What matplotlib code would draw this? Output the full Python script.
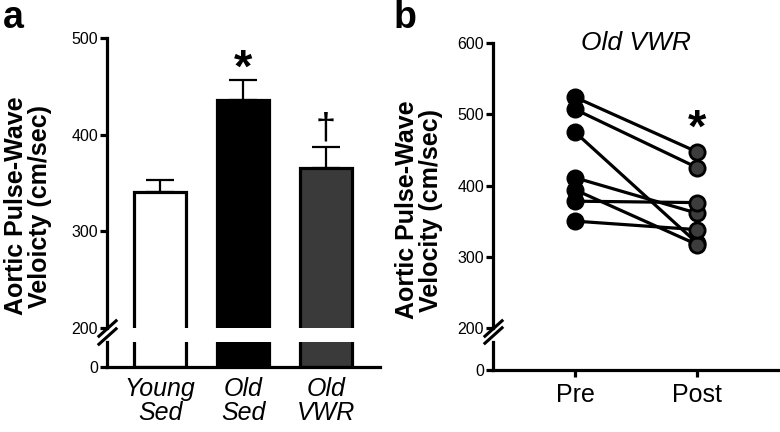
import matplotlib
matplotlib.use("Agg")
import matplotlib.pyplot as plt

plt.rcParams["font.family"] = ["Liberation Sans", "DejaVu Sans"]

# Panel a: group means and SEM
groups = ["Young\nSed", "Old\nSed", "Old\nVWR"]
pwv_mean = [341, 436, 366]
pwv_sem = [12, 21, 21]
bar_colors = ["white", "black", "#3a3a3a"]
marks = ["", "*", "\u2020"]

# Panel b: individual Old VWR mice, pre vs post
phases = ["Pre", "Post"]
pre = [524, 507, 475, 411, 394, 378, 350]
post = [447, 425, 319, 361, 317, 376, 338]

W, H = 780, 432
fig = plt.figure(figsize=(W / 100, H / 100), dpi=100)


def rect(x0, x1, ytop, ybot):
    return [x0 / W, 1 - ybot / H, (x1 - x0) / W, (ybot - ytop) / H]


LW = 2.3


def style(ax, bottom):
    for s in ["top", "right"]:
        ax.spines[s].set_visible(False)
    ax.spines["left"].set_linewidth(LW)
    ax.spines["bottom"].set_linewidth(LW)
    ax.spines["bottom"].set_visible(bottom)
    ax.tick_params(axis="y", direction="out", length=5, width=LW, labelsize=11.5, pad=1.5)
    ax.patch.set_alpha(0)


def breaks(ax_top, ax_bot):
    kw = dict(marker=[(-1, -0.9), (1, 0.9)], markersize=14, linestyle="none",
              color="k", mec="k", mew=2.2, clip_on=False)
    ax_top.plot([0], [0], transform=ax_top.transAxes, **kw)
    ax_bot.plot([0], [1.25], transform=ax_bot.transAxes, **kw)


# ---------------- panel a ----------------
a_top = fig.add_axes(rect(107, 380, 38, 328))
a_bot = fig.add_axes(rect(107, 380, 342, 367))
x = list(range(len(groups)))
for ax in (a_top, a_bot):
    ax.bar(x, pwv_mean, width=0.63, color=bar_colors, edgecolor="black", linewidth=LW, zorder=2)
    ax.set_xlim(-0.64, 2.65)
style(a_top, False)
style(a_bot, True)
a_top.errorbar(x, pwv_mean, yerr=[[0] * 3, pwv_sem], fmt="none", ecolor="black",
               elinewidth=1.6, capsize=10, capthick=1.6, zorder=1)
a_top.set_ylim(200, 500)
a_top.set_yticks([200, 300, 400, 500])
a_top.set_xticks([])
a_bot.set_ylim(0, 30)
a_bot.set_yticks([0])
a_bot.set_xticks(x)
a_bot.set_xticklabels(groups, fontsize=18, style="italic", linespacing=1.0)
a_bot.tick_params(axis="x", length=0, pad=7)
for xi, m, val, e in zip(x, marks, pwv_mean, pwv_sem):
    if m == "*":
        a_top.text(xi, val + e - 13, m, ha="center", va="bottom", fontsize=34, fontweight="bold")
    elif m:
        a_top.text(xi, val + e + 1, m, ha="center", va="bottom", fontsize=26)
breaks(a_top, a_bot)

fig.text(28 / W, 1 - 206 / H, "Aortic Pulse-Wave\nVeloicty (cm/sec)", rotation=90,
         ha="center", va="center", fontsize=18, fontweight="bold", linespacing=0.95)
fig.text(3 / W, 1 - 0 / H, "a", ha="left", va="top", fontsize=27, fontweight="bold")

# ---------------- panel b ----------------
b_top = fig.add_axes(rect(493, 778, 43, 328))
b_bot = fig.add_axes(rect(493, 778, 342, 370))
style(b_top, False)
style(b_bot, True)
for p0, p1 in zip(pre, post):
    b_top.plot([0, 1], [p0, p1], color="black", lw=LW, zorder=2)
b_top.plot([0] * len(pre), pre, "o", ms=12, color="black", zorder=3)
b_top.plot([1] * len(post), post, "o", ms=11, mfc="#3c3c3c", mec="black", mew=2, zorder=4)
b_top.set_xlim(-0.67, 1.66)
b_bot.set_xlim(-0.67, 1.66)
b_top.set_ylim(200, 600)
b_top.set_yticks([200, 300, 400, 500, 600])
b_top.set_xticks([])
b_bot.set_ylim(0, 30)
b_bot.set_yticks([0])
b_bot.set_xticks([0, 1])
b_bot.set_xticklabels(phases, fontsize=18)
b_bot.tick_params(axis="x", length=5, width=LW, pad=4)
b_top.text(1, 448, "*", ha="center", va="bottom", fontsize=34, fontweight="bold")
b_top.text(0.5, 1.0, "Old VWR", transform=b_top.transAxes, ha="center", va="center",
           fontsize=19, style="italic")
breaks(b_top, b_bot)

fig.text(419 / W, 1 - 210 / H, "Aortic Pulse-Wave\nVelocity (cm/sec)", rotation=90,
         ha="center", va="center", fontsize=18, fontweight="bold", linespacing=0.95)
fig.text(394 / W, 1 - 0 / H, "b", ha="left", va="top", fontsize=27, fontweight="bold")

fig.savefig("out.png", dpi=100)
